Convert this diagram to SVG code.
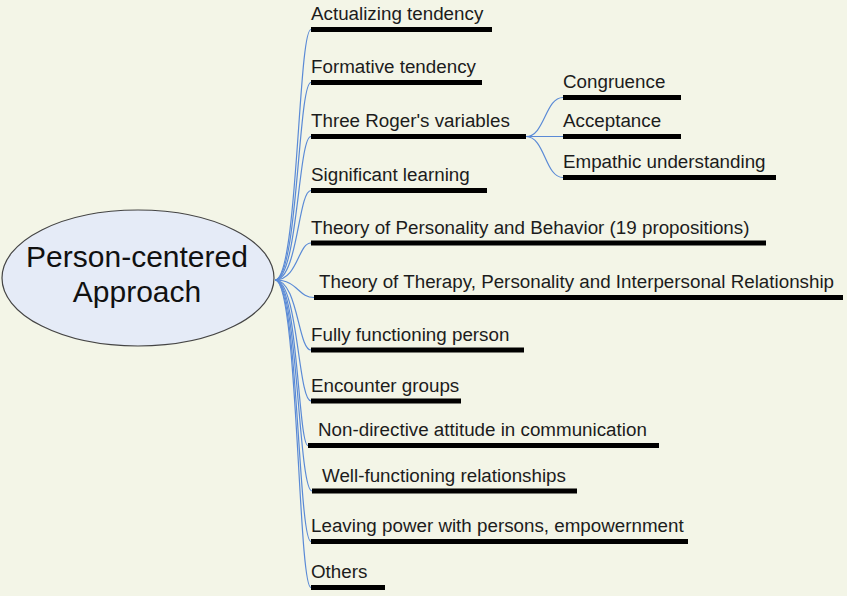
<svg xmlns="http://www.w3.org/2000/svg" width="847" height="596" viewBox="0 0 847 596">
<style>
.bg{fill:#F3F5E7}
.t{font-family:"Liberation Sans",Arial,sans-serif;font-size:18.8px;fill:#1c1c1c}
.ct{font-family:"Liberation Sans",Arial,sans-serif;font-size:30px;fill:#111;text-anchor:middle}
.bar{fill:#000}
.c{fill:none;stroke:#5A8AD6;stroke-width:1.2}
</style>
<rect class="bg" x="0" y="0" width="847" height="596"/>
<g id="connectors">
<path class="c" d="M275,280 C298,280 298,29.5 311,29.5"/>
<path class="c" d="M275,280 C298,280 298,82.5 311,82.5"/>
<path class="c" d="M275,280 C298,280 298,136.5 311,136.5"/>
<path class="c" d="M275,280 C298,280 298,190.5 311,190.5"/>
<path class="c" d="M275,280 C298,280 298,243 311,243"/>
<path class="c" d="M275,280 C298,280 298,297.5 314,297.5"/>
<path class="c" d="M275,280 C298,280 298,350 311,350"/>
<path class="c" d="M275,280 C298,280 298,401 311,401"/>
<path class="c" d="M275,280 C298,280 298,445.5 308,445.5"/>
<path class="c" d="M275,280 C298,280 298,491 312,491"/>
<path class="c" d="M275,280 C298,280 298,541.5 311,541.5"/>
<path class="c" d="M275,280 C298,280 298,587.5 311,587.5"/>
<path class="c" d="M526,136.5 C545,136.5 545,97.5 563,97.5"/>
<path class="c" d="M526,136.5 L563,136.5"/>
<path class="c" d="M526,136.5 C545,136.5 545,177.5 563,177.5"/>
</g>
<g id="center">
<ellipse cx="138" cy="278" rx="136" ry="68" fill="#E5EBF7" stroke="#444" stroke-width="1.2"/>
<text class="ct" x="137" y="267">Person-centered</text>
<text class="ct" x="137" y="302">Approach</text>
</g>
<g id="n1"><rect class="bar" x="311" y="27" width="181" height="5"/><text class="t" x="311" y="20">Actualizing tendency</text></g>
<g id="n2"><rect class="bar" x="311" y="80" width="171" height="5"/><text class="t" x="311" y="73">Formative tendency</text></g>
<g id="n3"><rect class="bar" x="311" y="134" width="215" height="5"/><text class="t" x="311" y="127">Three Roger's variables</text></g>
<g id="n3a"><rect class="bar" x="563" y="95" width="118" height="5"/><text class="t" x="563" y="88">Congruence</text></g>
<g id="n3b"><rect class="bar" x="563" y="134" width="118" height="5"/><text class="t" x="563" y="127">Acceptance</text></g>
<g id="n3c"><rect class="bar" x="563" y="175" width="213" height="5"/><text class="t" x="563" y="168">Empathic understanding</text></g>
<g id="n4"><rect class="bar" x="311" y="188" width="176" height="5"/><text class="t" x="311" y="181">Significant learning</text></g>
<g id="n5"><rect class="bar" x="311" y="240.5" width="455" height="5"/><text class="t" x="311" y="233.5">Theory of Personality and Behavior (19 propositions)</text></g>
<g id="n6"><rect class="bar" x="314" y="295" width="529" height="5"/><text class="t" x="319" y="287.5">Theory of Therapy, Personality and Interpersonal Relationship</text></g>
<g id="n7"><rect class="bar" x="311" y="347.5" width="213" height="5"/><text class="t" x="311" y="340.5">Fully functioning person</text></g>
<g id="n8"><rect class="bar" x="311" y="398.5" width="150" height="5"/><text class="t" x="311" y="391.5">Encounter groups</text></g>
<g id="n9"><rect class="bar" x="308" y="443" width="351" height="5"/><text class="t" x="318" y="436">Non-directive attitude in communication</text></g>
<g id="n10"><rect class="bar" x="312" y="488.5" width="265" height="5"/><text class="t" x="322" y="481.5">Well-functioning relationships</text></g>
<g id="n11"><rect class="bar" x="311" y="539" width="377" height="5"/><text class="t" x="311" y="532">Leaving power with persons, empowernment</text></g>
<g id="n12"><rect class="bar" x="311" y="585" width="74" height="5"/><text class="t" x="311" y="578">Others</text></g>
</svg>
